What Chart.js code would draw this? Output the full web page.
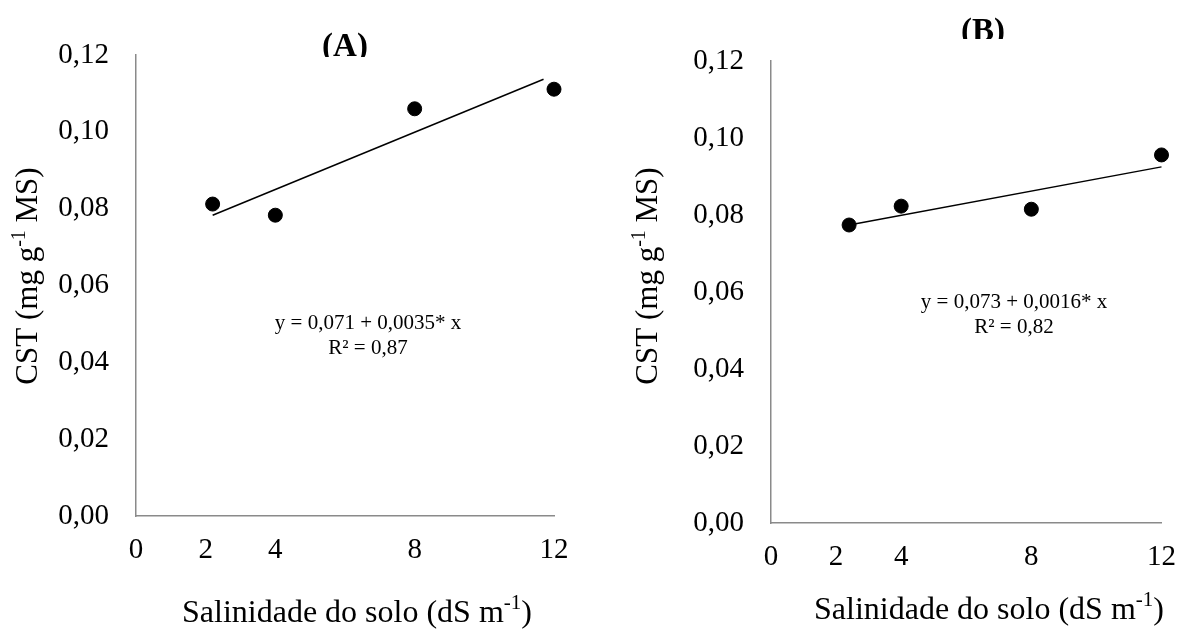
<!DOCTYPE html>
<html>
<head>
<meta charset="utf-8">
<script src="https://cdn.jsdelivr.net/npm/chart.js@4.4.1/dist/chart.umd.min.js"></script>
<style>
    html, body { margin: 0; padding: 0; background: #fff; }
    #wrap { position: relative; width: 1193px; height: 631px; }
    .panel { position: absolute; top: 0; height: 631px; }
    #panelA { left: 0; width: 596px; }
    #panelB { left: 596px; width: 597px; }
</style>
</head>
<body>
<div id="wrap">
    <div class="panel" id="panelA"><canvas id="chartA"></canvas></div>
    <div class="panel" id="panelB"><canvas id="chartB"></canvas></div>
</div>
<script>
// values
const xTicks = [0, 2, 4, 8, 12];

const salinityA = [2.2, 4, 8, 12];
const cstA = [0.0812, 0.0783, 0.106, 0.1111];
const fitXA = [2.2, 11.7];
const fitYA = [0.0783, 0.1137];

const salinityB = [2.4, 4, 8, 12];
const cstB = [0.0774, 0.0823, 0.0815, 0.0956];
const fitXB = [2.4, 12];
const fitYB = [0.0774, 0.0925];

const panelTitles = ['(A)', '(B)'];
const equationsA = ['y = 0,071 + 0,0035* x', 'R² = 0,87'];
const equationsB = ['y = 0,073 + 0,0016* x', 'R² = 0,82'];

const SERIF = "'Liberation Serif', 'Times New Roman', serif";
const AXIS_GRAY = '#8a8a8a';

// draw a line of text with superscript pieces, centred on (x, y)
const drawRich = (ctx, parts, x, y, size, rotate) => {
    ctx.save();
    ctx.translate(x, y);
    if (rotate) ctx.rotate(-Math.PI / 2);
    ctx.textBaseline = 'alphabetic';
    ctx.textAlign = 'left';
    let total = 0;
    parts.forEach(p => {
        ctx.font = (p.sup ? Math.round(size * 0.65) : size) + 'px ' + SERIF;
        p.w = ctx.measureText(p.t).width;
        total += p.w;
    });
    let cx = -total / 2;
    const base = size * 0.33;
    parts.forEach(p => {
        ctx.font = (p.sup ? Math.round(size * 0.65) : size) + 'px ' + SERIF;
        ctx.fillStyle = '#000';
        ctx.fillText(p.t, cx, p.sup ? base - size * 0.38 : base);
        cx += p.w;
    });
    ctx.restore();
}

const annotations = {
    id: 'annotations',
    afterDraw(chart, args, opts) {
        const ctx = chart.ctx;
        // panel title, clipped like in the source figure
        ctx.save();
        ctx.beginPath();
        ctx.rect(0, 0, chart.width, opts.titleClip);
        ctx.clip();
        ctx.font = 'bold 33px ' + SERIF;
        ctx.fillStyle = '#000';
        ctx.textAlign = 'center';
        ctx.textBaseline = 'alphabetic';
        ctx.fillText(opts.title, opts.titleX, opts.titleY);
        ctx.restore();

        // axis titles
        drawRich(ctx, [{ t: 'CST (mg g' }, { t: '-1', sup: true }, { t: ' MS)' }], opts.yTitleX, opts.yTitleY, 31, true);
        drawRich(ctx, [{ t: 'Salinidade do solo (dS m' }, { t: '-1', sup: true }, { t: ')' }], opts.xTitleX, opts.xTitleY, 32, false);

        // regression equation
        ctx.save();
        ctx.font = '21px ' + SERIF;
        ctx.fillStyle = '#000';
        ctx.textAlign = 'center';
        ctx.textBaseline = 'middle';
        opts.equation.forEach((line, i) => {
            ctx.fillText(line, opts.eqX, opts.eqY + i * 25);
        });
        ctx.restore();
    }
};

const toPoints = (xs, ys) => xs.map((x, i) => ({ x: x, y: ys[i] }));

const buildChart = (canvasId, xs, ys, fitX, fitY, layout, textOpts) => {
    return new Chart(document.getElementById(canvasId), {
        type: 'scatter',
        data: {
            datasets: [
                {
                    type: 'line',
                    data: toPoints(fitX, fitY),
                    borderColor: '#000',
                    borderWidth: 1.5,
                    pointRadius: 0,
                    fill: false,
                    clip: false,
                },
                {
                    data: toPoints(xs, ys),
                    backgroundColor: '#000',
                    borderColor: '#000',
                    pointRadius: 7,
                    pointHoverRadius: 7,
                    clip: false,
                }
            ]
        },
        options: {
            responsive: true,
            maintainAspectRatio: false,
            animation: false,
            layout: { padding: layout.padding },
            plugins: {
                legend: { display: false },
                tooltip: { enabled: false },
                annotations: textOpts,
            },
            scales: {
                x: {
                    type: 'linear',
                    min: 0,
                    max: 12,
                    afterBuildTicks: (scale) => {
                        scale.ticks = xTicks.map(v => ({ value: v }));
                    },
                    afterFit: (scale) => { scale.height = layout.xHeight; },
                    grid: { display: false, drawTicks: false },
                    border: { display: true, color: AXIS_GRAY, width: 1.5 },
                    ticks: {
                        padding: 17,
                        color: '#000',
                        font: { family: SERIF, size: 29 },
                        callback: (v) => String(v),
                    }
                },
                y: {
                    min: 0,
                    max: 0.12,
                    afterFit: (scale) => { scale.width = layout.yWidth; },
                    grid: { display: false, drawTicks: false },
                    border: { display: true, color: AXIS_GRAY, width: 1.5 },
                    ticks: {
                        stepSize: 0.02,
                        padding: 27,
                        color: '#000',
                        font: { family: SERIF, size: 29 },
                        callback: (v) => v.toFixed(2).replace('.', ','),
                    }
                }
            }
        },
        plugins: [annotations]
    });
}

buildChart('chartA', salinityA, cstA, fitXA, fitYA,
    { padding: { left: 0, top: 55, right: 42, bottom: 0 }, xHeight: 115, yWidth: 136 },
    {
        title: panelTitles[0], titleX: 345, titleY: 56, titleClip: 57,
        yTitleX: 27, yTitleY: 276, xTitleX: 357, xTitleY: 611,
        equation: equationsA, eqX: 368, eqY: 323,
    });

buildChart('chartB', salinityB, cstB, fitXB, fitYB,
    { padding: { left: 0, top: 61, right: 16, bottom: 0 }, xHeight: 108, yWidth: 175 },
    {
        title: panelTitles[1], titleX: 387, titleY: 41, titleClip: 39,
        yTitleX: 51, yTitleY: 276, xTitleX: 393, xTitleY: 608,
        equation: equationsB, eqX: 418, eqY: 302,
    });
</script>
</body>
</html>
